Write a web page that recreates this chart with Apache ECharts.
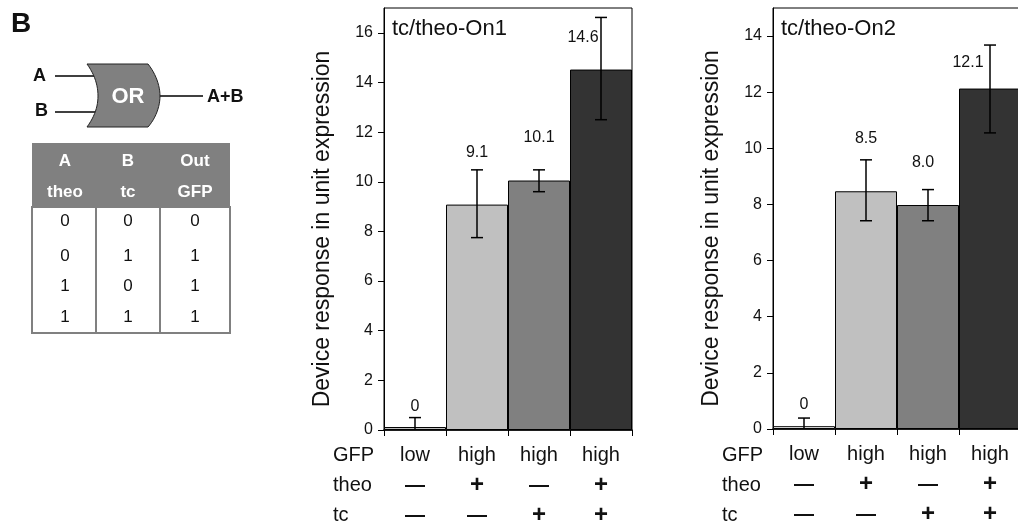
<!DOCTYPE html>
<html>
<head>
<meta charset="utf-8">
<style>
  html, body { margin: 0; padding: 0; background: #fff; }
  #chart { width: 1018px; height: 525px; }
</style>
<script src="https://cdn.jsdelivr.net/npm/echarts@6/dist/echarts.min.js"></script>
</head>
<body>
<div id="chart"></div>
<script>
// ---------------- DATA ----------------
const gfpRow  = ['low', 'high', 'high', 'high'];
const theoRow = ['—', '+', '—', '+'];
const tcRow   = ['—', '—', '+', '+'];
const rowHeaders = ['GFP', 'theo', 'tc'];

const on1Title = 'tc/theo-On1';
const on1Values  = [0.12, 9.08, 10.05, 14.52];
const on1ErrLow  = [0, 7.75, 9.6, 12.5];
const on1ErrHigh = [0.5, 10.48, 10.48, 16.62];
const on1Labels  = ['0', '9.1', '10.1', '14.6'];
const on1Ticks   = [0, 2, 4, 6, 8, 10, 12, 14, 16];

const on2Title = 'tc/theo-On2';
const on2Values  = [0.1, 8.47, 7.98, 12.13];
const on2ErrLow  = [0, 7.42, 7.42, 10.55];
const on2ErrHigh = [0.39, 9.59, 8.53, 13.68];
const on2Labels  = ['0', '8.5', '8.0', '12.1'];
const on2Ticks   = [0, 2, 4, 6, 8, 10, 12, 14];

const yAxisName = 'Device response in unit expression';

const truthHeadTop = ['A', 'B', 'Out'];
const truthHeadBottom = ['theo', 'tc', 'GFP'];
const truthRows = [[0, 0, 0], [0, 1, 1], [1, 0, 1], [1, 1, 1]];

// ---------------- STYLE / LAYOUT ----------------
const FONT = "'Liberation Sans', Arial, Helvetica, sans-serif";
const on1Colors = ['#c0c0c0', '#c0c0c0', '#808080', '#333333'];
const on2Colors = ['#ffffff', '#c0c0c0', '#808080', '#333333'];
// pixel offsets of value labels relative to the top of each error bar
const on1LabelOff = [[0, -11], [0, -17], [0, -32], [-18, 20]];
const on2LabelOff = [[0, -13], [0, -21], [-5, -27], [-22, 18]];

const grids = [
  { left: 384, top: 8, width: 248, height: 422 },
  { left: 773, top: 8, width: 248, height: 421 }
];

function sym(s) { return s === '+' ? '{p|+}' : '{d|' + s + '}'; }
function xAxisFor(gi) {
  return {
    type: 'category', gridIndex: gi, data: gfpRow.map((g, i) => i),
    boundaryGap: true,
    axisLine: { show: true, lineStyle: { color: '#000', width: 1.5 } },
    axisTick: { show: true, inside: false, length: 6, lineStyle: { color: '#000', width: 1 } },
    axisLabel: {
      interval: 0, hideOverlap: false,
      margin: 10, fontFamily: FONT, fontSize: 20, color: '#111', lineHeight: 30,
      formatter: (v, i) => gfpRow[i] + '\n' + sym(theoRow[i]) + '\n' + sym(tcRow[i]),
      rich: {
        p: { fontFamily: FONT, fontSize: 24, fontWeight: 'bold', lineHeight: 30, color: '#111' },
        d: { fontFamily: FONT, fontSize: 20, fontWeight: 'bold', lineHeight: 30, color: '#111' }
      }
    },
    splitLine: { show: false }
  };
}
function yAxisFor(gi, max, ticks) {
  return {
    type: 'value', gridIndex: gi, min: 0, max: max, interval: 2,
    name: yAxisName, nameLocation: 'middle', nameRotate: 90, nameGap: 50,
    nameTextStyle: { fontFamily: FONT, fontSize: 23, color: '#111', padding: [0, 20, 0, 0] },
    axisLine: { show: true, lineStyle: { color: '#000', width: 1 } },
    axisTick: { show: true, inside: false, length: 6, customValues: ticks, lineStyle: { color: '#000' } },
    axisLabel: { customValues: ticks, margin: 11, fontFamily: FONT, fontSize: 16, color: '#111' },
    splitLine: { show: false }
  };
}
function barSeries(gi, values, colors) {
  return {
    type: 'bar', xAxisIndex: gi, yAxisIndex: gi,
    barCategoryGap: '0%', barGap: '0%',
    data: values.map((v, i) => ({ value: v, itemStyle: { color: colors[i] } })),
    itemStyle: { borderColor: '#000', borderWidth: 1 },
    silent: true, animation: false, z: 2
  };
}
function errSeries(gi, lo, hi, labels, offs) {
  return {
    type: 'custom', xAxisIndex: gi, yAxisIndex: gi, z: 5, animation: false, silent: true,
    clip: false,
    data: lo.map((l, i) => [i, l, hi[i]]),
    renderItem: function (params, api) {
      const i = params.dataIndex;
      const pTop = api.coord([api.value(0), api.value(2)]);
      const pBot = api.coord([api.value(0), api.value(1)]);
      const x = pTop[0], cap = 6;
      const st = { stroke: '#000', lineWidth: 1.5 };
      const ch = [
        { type: 'line', shape: { x1: x, y1: pTop[1], x2: x, y2: pBot[1] }, style: st },
        { type: 'line', shape: { x1: x - cap, y1: pTop[1], x2: x + cap, y2: pTop[1] }, style: st }
      ];
      if (api.value(1) > 0) {
        ch.push({ type: 'line', shape: { x1: x - cap, y1: pBot[1], x2: x + cap, y2: pBot[1] }, style: st });
      }
      ch.push({
        type: 'text',
        style: {
          x: x + offs[i][0], y: pTop[1] + offs[i][1], text: labels[i],
          fontFamily: FONT, fontSize: 16, fill: '#111', align: 'center', verticalAlign: 'middle'
        }
      });
      return { type: 'group', children: ch };
    }
  };
}

// ---------------- GRAPHIC (diagram + table + texts) ----------------
const graphics = [];
function txt(x, y, text, size, opts) {
  graphics.push({
    type: 'text', x: x, y: y, z: 10,
    style: Object.assign({ text: text, fontFamily: FONT, fontSize: size, fill: '#111',
      align: 'left', verticalAlign: 'middle' }, opts || {})
  });
}
function bez(p0, p1, p2, p3, n) {
  const out = [];
  for (let k = 0; k <= n; k++) {
    const t = k / n, u = 1 - t;
    out.push([
      u*u*u*p0[0] + 3*u*u*t*p1[0] + 3*u*t*t*p2[0] + t*t*t*p3[0],
      u*u*u*p0[1] + 3*u*u*t*p1[1] + 3*u*t*t*p2[1] + t*t*t*p3[1]
    ]);
  }
  return out;
}
// panel letter
txt(11, 24, 'B', 28, { fontWeight: 'bold' });
// OR gate
graphics.push({ type: 'line', shape: { x1: 55, y1: 76, x2: 97, y2: 76 }, style: { stroke: '#000', lineWidth: 1.5 }, z: 5 });
graphics.push({ type: 'line', shape: { x1: 55, y1: 112, x2: 97, y2: 112 }, style: { stroke: '#000', lineWidth: 1.5 }, z: 5 });
graphics.push({ type: 'line', shape: { x1: 158, y1: 96, x2: 203, y2: 96 }, style: { stroke: '#000', lineWidth: 1.5 }, z: 5 });
const gatePts = [].concat(
  [[87, 64]],
  bez([148, 64], [156, 74], [160, 86], [160, 96], 12),
  bez([160, 96], [160, 106], [156, 118], [148, 127], 12),
  [[87, 127]],
  bez([87, 127], [95, 116], [98, 106], [98, 96], 12),
  bez([98, 96], [98, 86], [95, 75], [87, 64], 12)
);
graphics.push({
  type: 'polygon', z: 6,
  shape: { points: gatePts },
  style: { fill: '#808080', stroke: '#222', lineWidth: 1 }
});
txt(128, 97, 'OR', 22, { fontWeight: 'bold', fill: '#fff', align: 'center' });
txt(33, 76, 'A', 18, { fontWeight: 'bold' });
txt(35, 111, 'B', 18, { fontWeight: 'bold' });
txt(207, 97, 'A+B', 18, { fontWeight: 'bold' });
// truth table
graphics.push({ type: 'rect', z: 5, shape: { x: 32, y: 143, width: 198, height: 64 }, style: { fill: '#808080' } });
graphics.push({ type: 'rect', z: 5, shape: { x: 32, y: 207, width: 198, height: 126 }, style: { fill: '#fff', stroke: '#808080', lineWidth: 2 } });
graphics.push({ type: 'line', z: 6, shape: { x1: 96, y1: 207, x2: 96, y2: 333 }, style: { stroke: '#808080', lineWidth: 2 } });
graphics.push({ type: 'line', z: 6, shape: { x1: 160, y1: 207, x2: 160, y2: 333 }, style: { stroke: '#808080', lineWidth: 2 } });
const colX = [65, 128, 195];
const rowY = [221, 256, 286, 317];
truthHeadTop.forEach((t, j) => txt(colX[j], 161, t, 17, { fontWeight: 'bold', fill: '#fff', align: 'center' }));
truthHeadBottom.forEach((t, j) => txt(colX[j], 192, t, 17, { fontWeight: 'bold', fill: '#fff', align: 'center' }));
truthRows.forEach((r, i) => r.forEach((v, j) => txt(colX[j], rowY[i], String(v), 17, { align: 'center' })));
// chart titles
txt(392, 29, on1Title, 22);
txt(781, 29, on2Title, 22);
// row headers under the axes
[333, 722].forEach(x0 => rowHeaders.forEach((h, k) => txt(x0, 455 + 30 * k, h, 20)));

// ---------------- CHART ----------------
const chart = echarts.init(document.getElementById('chart'), null, { renderer: 'canvas' });
chart.setOption({
  animation: false,
  backgroundColor: '#fff',
  grid: grids.map(g => Object.assign({ show: true, borderColor: '#000', borderWidth: 1, backgroundColor: 'transparent', containLabel: false, outerBoundsMode: 'none' }, g)),
  xAxis: [xAxisFor(0), xAxisFor(1)],
  yAxis: [yAxisFor(0, 17, on1Ticks), yAxisFor(1, 15, on2Ticks)],
  series: [
    barSeries(0, on1Values, on1Colors),
    errSeries(0, on1ErrLow, on1ErrHigh, on1Labels, on1LabelOff),
    barSeries(1, on2Values, on2Colors),
    errSeries(1, on2ErrLow, on2ErrHigh, on2Labels, on2LabelOff)
  ],
  graphic: graphics
});
</script>
</body>
</html>
